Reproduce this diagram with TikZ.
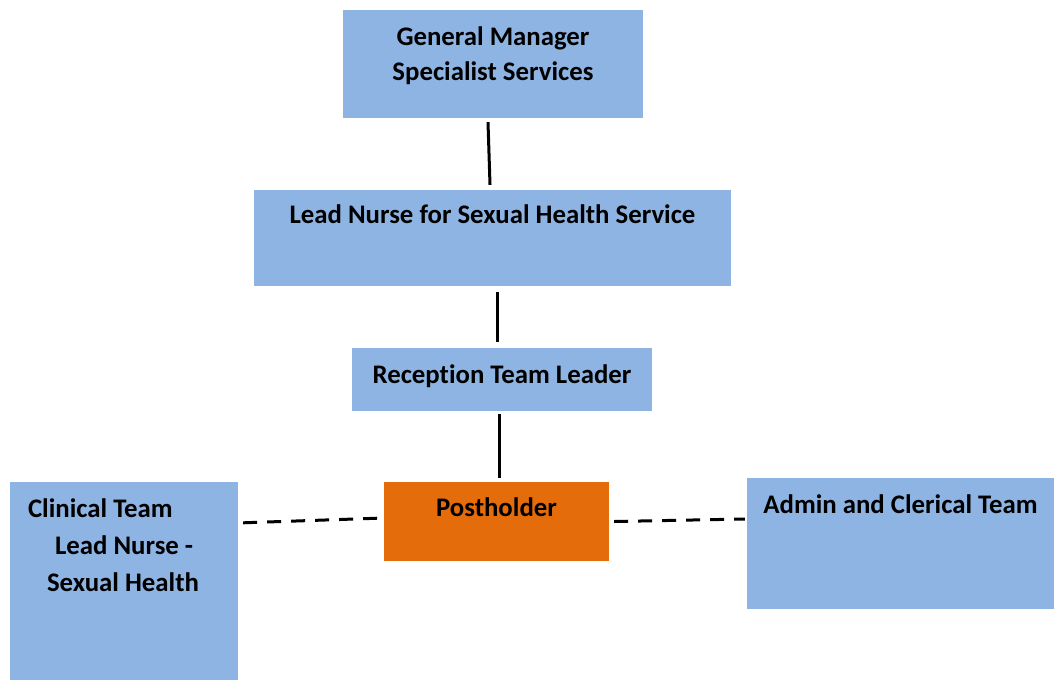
\documentclass[tikz,border=0pt]{standalone}
\usepackage{fontspec}
\setmainfont{Carlito}[Ligatures=NoCommon]
\usepackage{xcolor}
\usepackage{tikz}

\definecolor{boxblue}{HTML}{8EB4E3}
\definecolor{boxorange}{HTML}{E46C0A}

\tikzset{
    rolebox/.style={fill=boxblue, draw=none, inner sep=0pt, anchor=center},
    postbox/.style={fill=boxorange, draw=none, inner sep=0pt, anchor=center},
    roletext/.style={font=\fontsize{26.8}{35}\selectfont\bfseries, inner sep=0pt, align=center, anchor=base},
    link/.style={line width=3pt},
    dottedlink/.style={line width=3pt, dash pattern=on 14pt off 10pt}
}

\begin{document}
\begin{tikzpicture}[x=1pt, y=-1pt]
    \useasboundingbox (0,0) rectangle (1054,680);

    \node[rolebox, minimum width=300pt, minimum height=108pt] (gm) at (493,64) {};
    \node[rolebox, minimum width=477pt, minimum height=96pt] (lead) at (492.5,238) {};
    \node[rolebox, minimum width=300pt, minimum height=63pt] (reception) at (502,379.5) {};
    \node[postbox, minimum width=225pt, minimum height=79pt] (post) at (496.5,521.5) {};
    \node[rolebox, minimum width=228pt, minimum height=198pt] (clinical) at (124,581) {};
    \node[rolebox, minimum width=307pt, minimum height=131pt] (admin) at (900.5,543.5) {};

    % the base anchor of a multi-line text is its last line
    \node[roletext] (gmtext) at ([yshift=-71pt]gm.north) {General Manager\\Specialist Services};
    \node[roletext] (leadtext) at ([yshift=-34pt]lead.north) {Lead Nurse for Sexual Health Service};
    \node[roletext] (receptiontext) at ([yshift=-36pt]reception.north) {Reception Team Leader};
    \node[roletext] (posttext) at ([yshift=-35pt]post.north) {Postholder};
    \node[roletext] (admintext) at ([yshift=-36pt]admin.north) {Admin and Clerical Team};
    \node[roletext, font=\fontsize{26.8}{37}\selectfont\bfseries, align=left, anchor=base west] (clinicaltext)
        at ([xshift=18pt, yshift=-110pt]clinical.north west)
        {Clinical Team\\\hspace*{27pt}Lead Nurse -\\\hspace*{19pt}Sexual Health};

    \draw[link] ([xshift=-5pt, yshift=-4pt]gm.south) -- ([xshift=-2.5pt, yshift=5pt]lead.north);
    \draw[link] ([xshift=4.5pt, yshift=-6pt]lead.south) -- ([xshift=-5pt, yshift=6pt]reception.north);
    \draw[link] ([xshift=-3pt, yshift=-3pt]reception.south) -- ([xshift=2.5pt, yshift=4pt]post.north);
    \draw[dottedlink] ([xshift=5pt, yshift=-41pt]clinical.north east) -- ([yshift=3.5pt]post.west);
    \draw[dottedlink] ([xshift=5pt]post.east) -- ([xshift=-2pt, yshift=24.5pt]admin.west);
\end{tikzpicture}
\end{document}
